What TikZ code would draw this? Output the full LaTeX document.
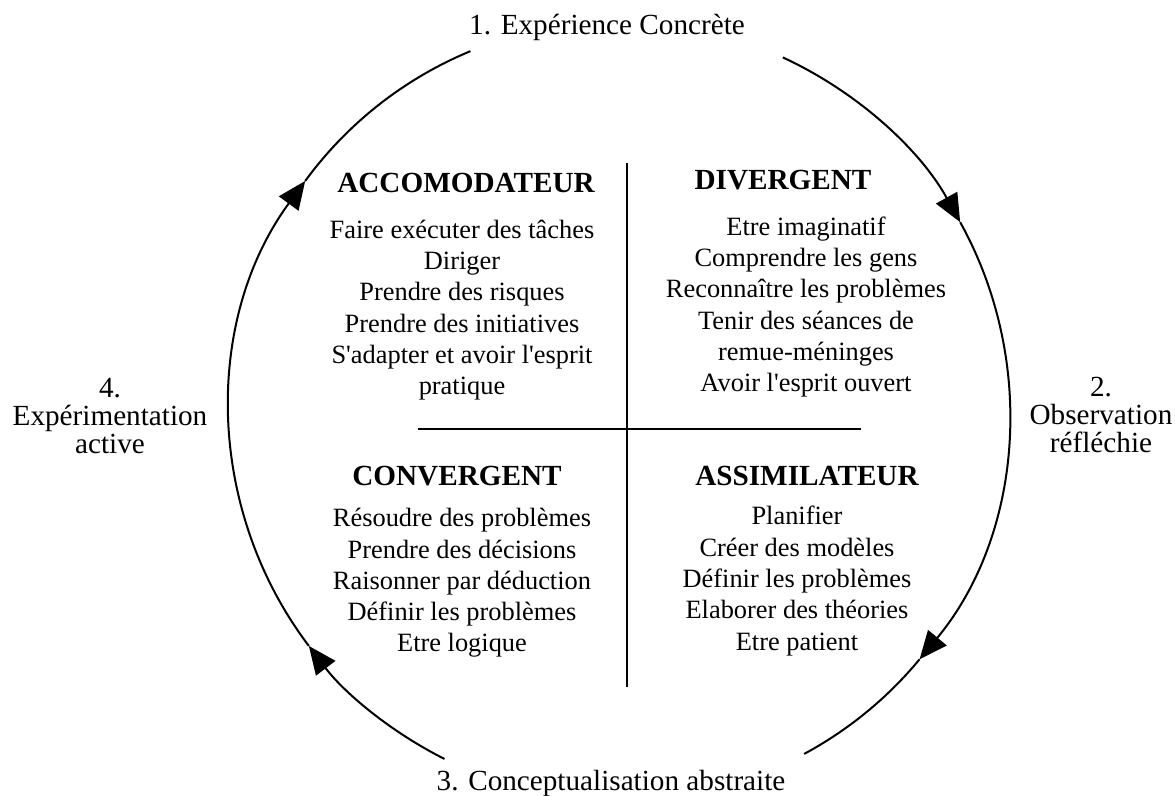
\documentclass[tikz,border=0pt]{standalone}
\usepackage{fontspec}
\setmainfont{Liberation Serif}
\usetikzlibrary{arrows.meta}
\tikzset{
    ring/.style={line width=1pt},
    ringtip/.style={-{Triangle[length=14pt,width=12pt]}},
    stage/.style={align=center, inner sep=0pt,
        font=\fontsize{14.6}{14.2}\selectfont},
    profile/.style={inner sep=0pt, font=\fontsize{14.6}{17}\selectfont\bfseries},
    skills/.style={align=center, inner sep=0pt,
        font=\fontsize{13.2}{15.65}\selectfont},
}
\newcommand{\apos}{\textquotesingle}
\begin{document}
\begin{tikzpicture}[x=0.5pt,y=-0.5pt]
    \useasboundingbox (0,0) rectangle (1175,796);
    \coordinate (c) at (619.5,411);
    % the four stages
    \node[stage] (exp) at (607,27) {1. Expérience Concrète};
    \node[stage] (obs) at (1101,415) {2.\\Observation\\réfléchie};
    \node[stage] (conc) at (611,783) {3. Conceptualisation abstraite};
    \node[stage] (act) at (110,416) {4.\\Expérimentation\\active};
    % the cycle, clockwise
    \draw[ring,ringtip] (c) ++(-65.2:389.5) arc[start angle=-65.2, end angle=-29, radius=389.5];
    \draw[ring,ringtip] (c) ++(-29:389.5) arc[start angle=-29, end angle=39.6, radius=389.5];
    \draw[ring] (c) ++(39.6:389.5) arc[start angle=39.6, end angle=61.7, radius=389.5];
    \draw[ring,ringtip] (c) ++(116.7:389.5) arc[start angle=116.7, end angle=142.9, radius=389.5];
    \draw[ring,ringtip] (c) ++(142.9:389.5) arc[start angle=142.9, end angle=216.2, radius=389.5];
    \draw[ring] (c) ++(216.2:389.5) arc[start angle=216.2, end angle=247.5, radius=389.5];
    % cross
    \coordinate (vtop) at (627,163);
    \coordinate (vbot) at (627,687);
    \coordinate (hleft) at (418,429);
    \coordinate (hright) at (861,429);
    \draw[line width=0.8pt] (vtop) -- (vbot);
    \draw[line width=1.3pt] (hleft) -- (hright);
    % learning styles
    \node[profile] (acc) at (466,183) {ACCOMODATEUR};
    \node[profile] (div) at (783,180) {DIVERGENT};
    \node[profile] (con) at (457,476) {CONVERGENT};
    \node[profile] (ass) at (807,476) {ASSIMILATEUR};
    \node[skills] (accs) at (462,310) {Faire exécuter des tâches\\Diriger\\Prendre des risques\\Prendre des initiatives\\S\apos adapter et avoir l\apos esprit\\pratique};
    \node[skills] (divs) at (806,307) {Etre imaginatif\\Comprendre les gens\\Reconnaître les problèmes\\Tenir des séances de\\remue-méninges\\Avoir l\apos esprit ouvert};
    \node[skills] (cons) at (462,583) {Résoudre des problèmes\\Prendre des décisions\\Raisonner par déduction\\Définir les problèmes\\Etre logique};
    \node[skills] (asss) at (797,581) {Planifier\\Créer des modèles\\Définir les problèmes\\Elaborer des théories\\Etre patient};
\end{tikzpicture}
\end{document}
